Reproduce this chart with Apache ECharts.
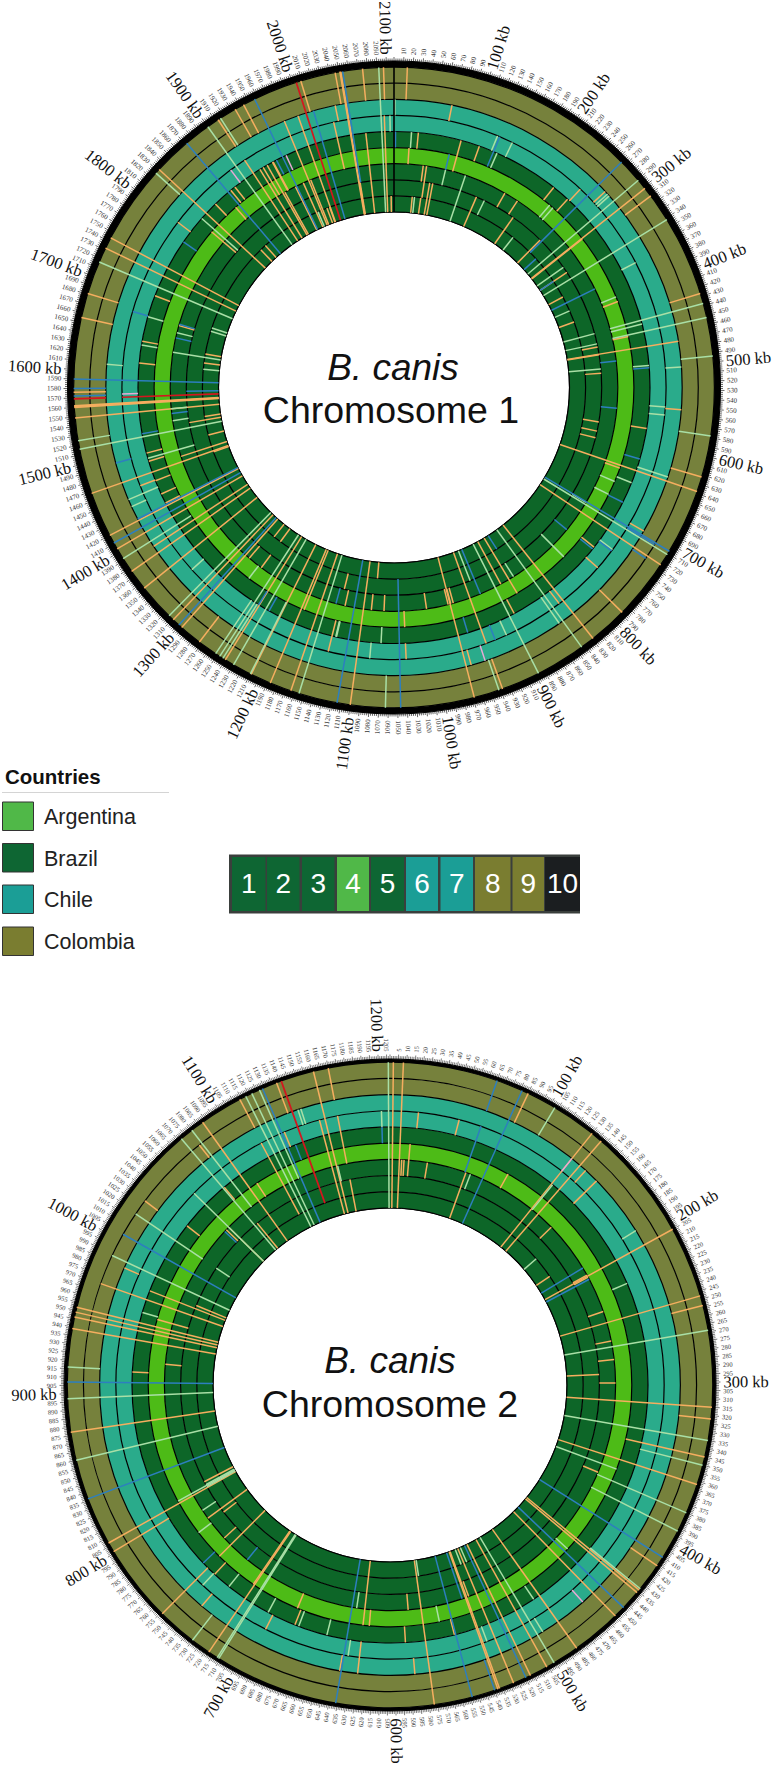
<!DOCTYPE html>
<html><head><meta charset="utf-8">
<style>html,body{margin:0;padding:0;background:#fff}#c{width:772px;height:1766px}</style>
<script src="https://cdn.jsdelivr.net/npm/echarts@6/dist/echarts.min.js"></script>
</head><body><div id="c"></div>
<script>
// Tracks from the inner ring outwards (legend number order)
const trackNames = ['1','2','3','4','5','6','7','8','9','10'];
const countries = ['Argentina','Brazil','Chile','Colombia'];
const chr1Length = 2108, chr2Length = 1207;
const chr1Major = [100,200,300,400,500,600,700,800,900,1000,1100,1200,1300,1400,1500,1600,1700,1800,1900,2000,2100];
const chr2Major = [100,200,300,400,500,600,700,800,900,1000,1100,1200];
const chr1TickStep = 10, chr2TickStep = 5;

// marks: [kb, first ring boundary, last ring boundary]
const chr1Orange = [[14,7,9],[21,3,4],[32,4,5],[68,6,7],[89,3,5],[114,4,5],[44,2,3],[49,1,3],[47,0,1],[32,0,1],[58,0,2],[63,0,2],[137,0,2],[174,2,3],[196,2,3],[205,0,2],[253,5,6],[226,4,5],[250,4,5],[262,0,2],[302,0,9],[303,0,4],[312,7,9],[276,6,7],[330,0,2],[362,0,1],[410,0,1],[404,3,4],[427,7,9],[455,3,4],[473,0,7],[474,0,2],[461,1,2],[504,1,2],[553,6,7],[583,1,2],[598,1,2],[609,1,2],[581,4,5],[622,7,9],[638,0,9],[642,3,4],[702,6,7],[724,0,9],[788,7,9],[770,5,6],[753,4,5],[829,0,9],[835,5,6],[873,0,4],[890,4,5],[887,0,3],[938,0,6],[969,0,9],[963,6,7],[938,7,9],[972,2,3],[964,2,3],[968,2,3],[1005,2,3],[1039,3,4],[1039,5,6],[1083,0,1],[1100,0,9],[1069,2,3],[1088,2,3],[1135,1,2],[1128,2,3],[1136,4,6],[1164,0,9],[1183,0,4],[1187,0,9],[1209,0,9],[1240,0,9],[1281,0,1],[1267,0,1],[1290,2,3],[1267,2,3],[1297,0,9],[1309,0,9],[1273,7,9],[1354,0,9],[1376,0,9],[1385,0,7],[1404,0,9],[1420,0,9],[1437,4,5],[1424,4,5],[1457,5,6],[1468,0,9],[1494,4,5],[1483,4,5],[1476,0,3],[1466,0,1],[1549,0,9],[1560,0,9],[1561,0,9],[1562,0,9],[1576,7,9],[1530,0,1],[1524,0,2],[1497,0,1],[1456,4,5],[1655,7,9],[1613,4,5],[1640,0,1],[1624,0,1],[1642,4,5],[1675,2,3],[1681,7,9],[1732,0,9],[1744,0,9],[1704,4,5],[1800,5,6],[1832,0,9],[1850,0,1],[1861,0,1],[1818,2,4],[1849,4,5],[1866,3,4],[1883,4,5],[1876,4,5],[1913,7,9],[1934,7,9],[1944,7,9],[2009,7,9],[1977,0,7],[1994,0,7],[1942,3,5],[1943,3,5],[1913,0,6],[1934,0,5],[1923,0,5],[1928,3,5],[1937,0,3],[1955,0,3],[1968,0,3],[1980,0,3],[1988,0,1],[1993,0,1],[2075,7,9],[2097,7,9],[2096,0,6],[2071,0,5],[2103,0,1],[2053,0,2],[2051,0,9],[2052,0,9],[2046,7,9],[2039,6,7],[2033,3,6]];
const chr1Light = [[1,6,7],[23,4,5],[78,2,3],[131,5,6],[151,5,6],[139,4,5],[36,0,1],[109,0,3],[151,1,2],[225,0,1],[237,3,4],[243,3,4],[280,6,7],[283,6,7],[291,0,9],[320,0,2],[342,0,9],[367,5,6],[389,0,1],[397,3,4],[438,3,9],[453,3,9],[443,3,5],[439,0,2],[456,0,2],[494,7,9],[498,4,5],[503,6,7],[497,0,2],[551,5,6],[561,5,6],[578,7,9],[633,5,7],[655,4,5],[662,3,4],[682,3,4],[708,2,3],[711,0,9],[741,5,6],[790,2,4],[844,0,9],[849,5,7],[897,0,9],[865,2,3],[911,5,6],[928,0,2],[942,7,9],[1063,7,9],[1071,4,5],[1084,5,6],[1130,4,5],[1131,4,5],[1155,0,9],[1210,4,9],[1230,0,9],[1247,0,9],[1243,5,9],[1252,5,9],[1272,3,4],[1315,0,9],[1335,5,6],[1392,4,9],[1438,6,7],[1447,5,7],[1516,0,9],[1525,7,9],[1549,2,3],[1531,2,3],[1487,2,5],[1608,6,7],[1613,0,1],[1634,0,3],[1637,4,5],[1664,2,3],[1687,0,1],[1681,0,1],[1675,4,5],[1716,0,9],[1827,7,9],[1823,2,5],[1900,0,9],[1916,7,9],[1971,0,1],[2092,0,9],[2103,5,6]];
const chr1Blue = [[2,4,5],[78,3,4],[134,4,6],[265,1,9],[280,0,1],[330,0,1],[374,0,3],[487,2,3],[501,4,5],[558,2,3],[622,4,5],[683,4,5],[707,0,9],[709,6,8],[727,7,8],[743,5,6],[756,4,5],[758,2,3],[864,0,1],[926,5,6],[921,0,3],[956,4,5],[1047,1,9],[1114,0,9],[1142,2,3],[1225,4,5],[1241,4,5],[1301,0,9],[1411,0,9],[1422,0,7],[1492,6,7],[1520,4,5],[1542,2,3],[1575,0,2],[1572,7,9],[1580,7,9],[1590,0,9],[1656,2,3],[1677,2,3],[1676,5,6],[1784,4,5],[1872,0,9],[1948,4,5],[1957,0,9],[2013,0,7],[2054,2,9]];
const chr1Red = [[1569,7,9],[1569,0,6],[2004,0,9]];
const chr1Pink = [[1573,5,6],[1892,5,6],[1962,4,5],[946,6,7]];
const chr1Black = [[0,0,9]];

const chr2Orange = [[2,0,9],[8,0,9],[20,5,6],[49,5,6],[16,2,4],[10,2,3],[12,2,3],[32,2,3],[85,7,9],[66,0,3],[98,3,4],[130,0,9],[137,0,9],[142,6,7],[152,5,7],[153,2,3],[187,0,1],[205,0,9],[204,2,3],[206,2,3],[238,2,3],[248,0,9],[254,7,9],[264,2,3],[280,2,3],[292,0,2],[300,2,3],[315,0,9],[322,7,9],[345,4,9],[362,0,9],[378,2,3],[416,7,9],[434,0,9],[436,0,9],[455,0,9],[485,0,9],[506,0,9],[517,0,9],[528,0,9],[537,0,9],[538,0,9],[577,0,9],[587,6,7],[555,4,5],[535,2,3],[588,2,3],[592,4,5],[620,3,4],[625,0,4],[637,6,7],[625,5,7],[679,3,4],[676,4,5],[694,5,6],[718,0,9],[719,0,4],[739,6,7],[754,5,9],[747,4,5],[754,0,4],[762,2,3],[784,0,3],[780,1,2],[801,5,9],[807,0,9],[813,0,2],[877,0,9],[915,4,5],[923,2,3],[939,0,9],[952,0,9],[949,0,9],[946,0,9],[970,0,8],[980,0,2],[977,0,5],[985,6,7],[958,2,4],[1029,7,8],[1033,4,5],[1051,2,3],[1054,0,3],[1088,0,9],[1078,7,8],[1095,3,4],[1073,4,5],[1075,0,2],[1114,7,9],[1113,1,6],[1138,7,9],[1131,5,6],[1161,0,9],[1157,0,6],[1170,7,9],[1170,3,6],[1170,0,2]];
const chr2Light = [[1206,0,9],[70,2,3],[103,7,9],[131,3,5],[165,0,1],[194,6,7],[224,4,5],[269,0,9],[335,0,9],[350,5,9],[370,0,4],[380,3,9],[392,3,9],[433,5,9],[445,3,4],[490,4,5],[497,6,7],[501,0,9],[564,3,4],[534,5,6],[531,0,1],[525,0,1],[575,0,1],[632,2,3],[633,5,6],[651,4,5],[673,4,5],[698,4,5],[711,0,9],[712,0,9],[730,7,9],[748,5,6],[733,4,5],[779,3,4],[792,2,3],[809,0,4],[810,0,2],[808,0,2],[860,0,9],[897,0,9],[916,7,9],[960,4,5],[989,0,8],[1019,3,8],[1019,1,2],[1054,0,6],[1072,0,9],[1080,3,9],[1118,0,9],[1122,0,9],[1127,3,9],[1145,6,7],[1147,6,7],[1162,2,3],[1201,5,6]];
const chr2Blue = [[65,7,9],[65,3,6],[81,0,9],[197,0,3],[208,0,3],[410,0,9],[448,0,9],[520,0,9],[540,7,9],[541,0,3],[554,0,9],[636,0,9],[735,2,3],[759,4,5],[836,0,9],[907,0,9],[1004,0,8],[1049,2,3],[1129,0,9],[1135,4,5],[1201,4,5]];
const chr2Red = [[1141,1,9]];
const chr2Pink = [[130,6,7],[464,6,7]];
const chr2Black = [];

const ringColors = ['#0d6628','#0d6628','#0d6628','#4dbb17','#0d6628','#2aab8b','#2aab8b','#76813c','#76813c','#000000'];
const legendColors = ['#50b848','#0e6633','#1b9e96','#7a7d30'];
const stripColors = ['#0e6633','#0e6633','#0e6633','#50b848','#0e6633','#1b9e96','#1b9e96','#7a7d30','#7a7d30','#1b1e20'];
const markColors = {orange:'#f5ae5f', light:'#a9dfa6', blue:'#2d7fbf', red:'#d4161e', pink:'#e6a9d5', black:'#000000'};

const serif = '"Liberation Serif","DejaVu Serif",serif';
const sans = '"Liberation Sans",Arial,sans-serif';

function ringSeries(polarIndex, ringEnds){
  return {
    type:'custom', coordinateSystem:'polar', polarIndex, silent:true, z:1,
    encode:{angle:1, radius:0},
    data: ringEnds.map((e,i)=>[i,0,e]),
    renderItem(params, api){
      const i = api.value(0), e = api.value(2);
      const cs = params.coordSys;
      const p0 = api.coord([i,0]), p1 = api.coord([e,0]);
      const r0 = Math.hypot(p0[0]-cs.cx,p0[1]-cs.cy), r1 = Math.hypot(p1[0]-cs.cx,p1[1]-cs.cy);
      return {type:'group', children:[
        {type:'circle', shape:{cx:cs.cx,cy:cs.cy,r:(r0+r1)/2}, style:{fill:'none',stroke:ringColors[i],lineWidth:r1-r0}},
        {type:'circle', shape:{cx:cs.cx,cy:cs.cy,r:r0}, style:{fill:'none',stroke:'#000',lineWidth:1.2}}
      ]};
    }
  };
}
function markSeries(polarIndex, arr, color, width, z){
  return {
    type:'custom', coordinateSystem:'polar', polarIndex, silent:true, z,
    encode:{angle:0, radius:1},
    data: arr,
    renderItem(params, api){
      const kb = api.value(0);
      const a = api.coord([api.value(1),kb]), b = api.coord([api.value(2),kb]);
      return {type:'line', shape:{x1:a[0],y1:a[1],x2:b[0],y2:b[1]}, style:{stroke:color, lineWidth:width}};
    }
  };
}
function labelSeries(polarIndex, kbs, labelFn, length, rad, font, color, fam){
  return {
    type:'custom', coordinateSystem:'polar', polarIndex, silent:true, z:6,
    encode:{angle:0},
    data: kbs.map(k=>[k]),
    renderItem(params, api){
      const kb = api.value(0);
      const p = api.coord([rad,kb]);
      const theta = kb/length*360;
      const right = theta <= 180;
      const rot = (right ? 90-theta : 270-theta)*Math.PI/180;
      return {type:'text', x:p[0], y:p[1], rotation:rot,
        style:{text:labelFn(kb), x:0, y:0, align:right?'left':'right', verticalAlign:'middle', fontSize:font, fontFamily:fam, fill:color}};
    }
  };
}
function smallTicks(length, step){
  const out=[]; for(let k=step;k<length-1;k+=step){ if(k%100!==0) out.push(k); } return out;
}
function angleAxis(polarIndex,length,step,minor,tickLen,tickW){
  return {polarIndex, type:'value', min:0, max:length, interval:step, startAngle:90, clockwise:true,
    axisLine:{show:true,lineStyle:{color:'#000',width:1}},
    axisTick:{show:true,length:tickLen,lineStyle:{color:'#222',width:tickW}},
    minorTick:{show:true,splitNumber:minor,length:tickLen-1.5,lineStyle:{color:'#222',width:tickW}},
    minorSplitLine:{show:false}, splitLine:{show:false}, axisLabel:{show:false}};
}

const r1Max = 9.38, r2Max = 9.2;
const series = [];
series.push(ringSeries(0,[1,2,3,4,5,6,7,8,9,r1Max]));
series.push(ringSeries(1,[1,2,3,4,5,6,7,8,9,r2Max]));
[[0,chr1Orange,chr1Light,chr1Blue,chr1Red,chr1Pink,chr1Black],[1,chr2Orange,chr2Light,chr2Blue,chr2Red,chr2Pink,chr2Black]].forEach(s=>{
  series.push(markSeries(s[0],s[1],markColors.orange,1.5,2));
  series.push(markSeries(s[0],s[2],markColors.light,1.5,3));
  series.push(markSeries(s[0],s[3],markColors.blue,1.5,4));
  series.push(markSeries(s[0],s[4],markColors.red,1.7,5));
  series.push(markSeries(s[0],s[5],markColors.pink,1.5,5));
  series.push(markSeries(s[0],s[6],markColors.black,1.6,5));
});
series.push(labelSeries(0,smallTicks(chr1Length,chr1TickStep),k=>String(k),chr1Length,9.78,7,'#333',serif));
series.push(labelSeries(0,chr1Major,k=>k+' kb',chr1Length,9.78,16.5,'#111',serif));
series.push(labelSeries(1,smallTicks(chr2Length,chr2TickStep),k=>String(k),chr2Length,9.66,6.5,'#333',serif));
series.push(labelSeries(1,chr2Major,k=>k+' kb',chr2Length,9.66,16.5,'#111',serif));

const graphic = [];
const centerText = (t,x,y,size,style)=>graphic.push({type:'text',silent:true,x,y,style:{text:t,align:'center',verticalAlign:'middle',fontSize:size,fontStyle:style||'normal',fontFamily:sans,fill:'#111'}});
centerText('B. canis',393,367,37,'italic');
centerText('Chromosome 1',391,410,37.5);
centerText('B. canis',390,1360,37,'italic');
centerText('Chromosome 2',390,1404,37.5);
graphic.push({type:'text',silent:true,x:5,y:776,style:{text:'Countries',verticalAlign:'middle',fontSize:20.5,fontWeight:'bold',fontFamily:sans,fill:'#111'}});
graphic.push({type:'line',silent:true,shape:{x1:2,y1:792.5,x2:169,y2:792.5},style:{stroke:'#d4d4d4',lineWidth:1}});
const swY=[802,843.5,885,927];
countries.forEach((c,i)=>{
  graphic.push({type:'rect',silent:true,shape:{x:2.5,y:swY[i],width:31,height:28.5},style:{fill:legendColors[i],stroke:'#333',lineWidth:1}});
  graphic.push({type:'text',silent:true,x:44,y:swY[i]+15,style:{text:c,verticalAlign:'middle',fontSize:21.5,fontFamily:sans,fill:'#222'}});
});
graphic.push({type:'rect',silent:true,shape:{x:229,y:854.5,width:351,height:59},style:{fill:'#3a3f3c'}});
const stripX=[232,267,302,337,371,406,440.5,475,512.5,545], stripW=[33.5,32.5,32.5,32,33,32,32.5,35.5,31.5,35];
trackNames.forEach((t,i)=>{
  graphic.push({type:'rect',silent:true,shape:{x:stripX[i],y:857,width:stripW[i],height:54},style:{fill:stripColors[i]}});
  graphic.push({type:'text',silent:true,x:stripX[i]+stripW[i]/2,y:883,style:{text:t,align:'center',verticalAlign:'middle',fontSize:28,fontFamily:sans,fill:'#fff'}});
});

const chart = echarts.init(document.getElementById('c'),null,{renderer:'svg',width:772,height:1766});
chart.setOption({
  animation:false, backgroundColor:'#fff',
  polar:[{center:[394,387.5],radius:[175.5,326.5]},{center:[390,1385],radius:[177,326]}],
  radiusAxis:[{polarIndex:0,type:'value',min:0,max:r1Max,show:false},{polarIndex:1,type:'value',min:0,max:r2Max,show:false}],
  angleAxis:[angleAxis(0,chr1Length,chr1TickStep,5,4,0.7),angleAxis(1,chr2Length,chr2TickStep,5,4.5,0.6)],
  graphic:{elements:graphic},
  series
});
</script></body></html>
